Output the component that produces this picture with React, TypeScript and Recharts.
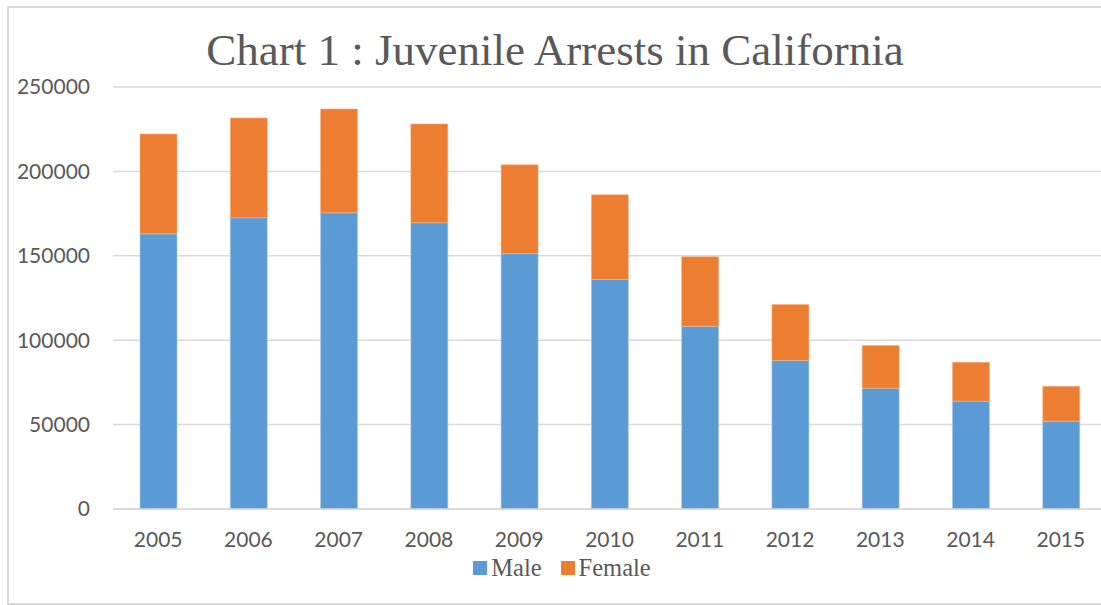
import { BarChart, Bar, XAxis, YAxis, CartesianGrid, Legend } from 'recharts';

const years = ['2005', '2006', '2007', '2008', '2009', '2010', '2011', '2012', '2013', '2014', '2015'];
const male = [163000, 172600, 175500, 169600, 151300, 136000, 108200, 88000, 71500, 63800, 52000];
const female = [59200, 59100, 61500, 58500, 52600, 50200, 41300, 33200, 25400, 23100, 20700];
const yTicks = [0, 50000, 100000, 150000, 200000, 250000];

const data = years.map((year, i) => ({ year, Male: male[i], Female: female[i] }));

const BLUE = '#5b9bd5';
const ORANGE = '#ed7d31';
const TEXT = '#595959';

const tickStyle = { fill: TEXT, fontSize: 21, fontFamily: 'Lato, sans-serif' };

const LegendContent = () => (
  <div style={{ display: 'flex', justifyContent: 'center', alignItems: 'center', fontFamily: '"Liberation Serif", serif', fontSize: 24.5, color: TEXT, height: 24, paddingLeft: 18 }}>
    <span style={{ width: 14, height: 14, background: BLUE, display: 'inline-block', marginRight: 4 }} />
    <span style={{ marginRight: 19 }}>Male</span>
    <span style={{ width: 14, height: 14, background: ORANGE, display: 'inline-block', marginRight: 4 }} />
    <span>Female</span>
  </div>
);

export default function App() {
  return (
    <div style={{ position: 'fixed', left: 0, top: 0, width: 1101, height: 605, overflow: 'hidden', background: '#fff' }}>
      <div style={{ position: 'absolute', left: 7, top: 6, width: 1120, height: 595, border: '2px solid #d9d9d9' }} />
      <div style={{ position: 'absolute', left: 0, top: 24, width: 1110, textAlign: 'center', fontFamily: '"Liberation Serif", serif', fontSize: 45, color: TEXT, lineHeight: '52px' }}>
        Chart 1 : Juvenile Arrests in California
      </div>
      <div style={{ position: 'absolute', left: 0, top: 0 }}>
        <BarChart width={1110} height={605} data={data} margin={{ top: 87, right: 4, left: 0, bottom: 25 }} barSize={37}>
          <CartesianGrid vertical={false} stroke="#d9d9d9" strokeWidth={1.5} />
          <XAxis dataKey="year" height={47} axisLine={{ stroke: '#d9d9d9', strokeWidth: 1.5 }} tickLine={false} tickMargin={17} tick={tickStyle} interval={0} />
          <YAxis width={113} domain={[0, 250000]} ticks={yTicks} axisLine={false} tickLine={false} tickMargin={17} tick={tickStyle} />
          <Legend verticalAlign="bottom" content={<LegendContent />} />
          <Bar dataKey="Male" stackId="a" fill={BLUE} stroke="#a9c9e8" strokeWidth={0.6} isAnimationActive={false} />
          <Bar dataKey="Female" stackId="a" fill={ORANGE} stroke="#f5b48a" strokeWidth={0.6} isAnimationActive={false} />
        </BarChart>
      </div>
    </div>
  );
}
